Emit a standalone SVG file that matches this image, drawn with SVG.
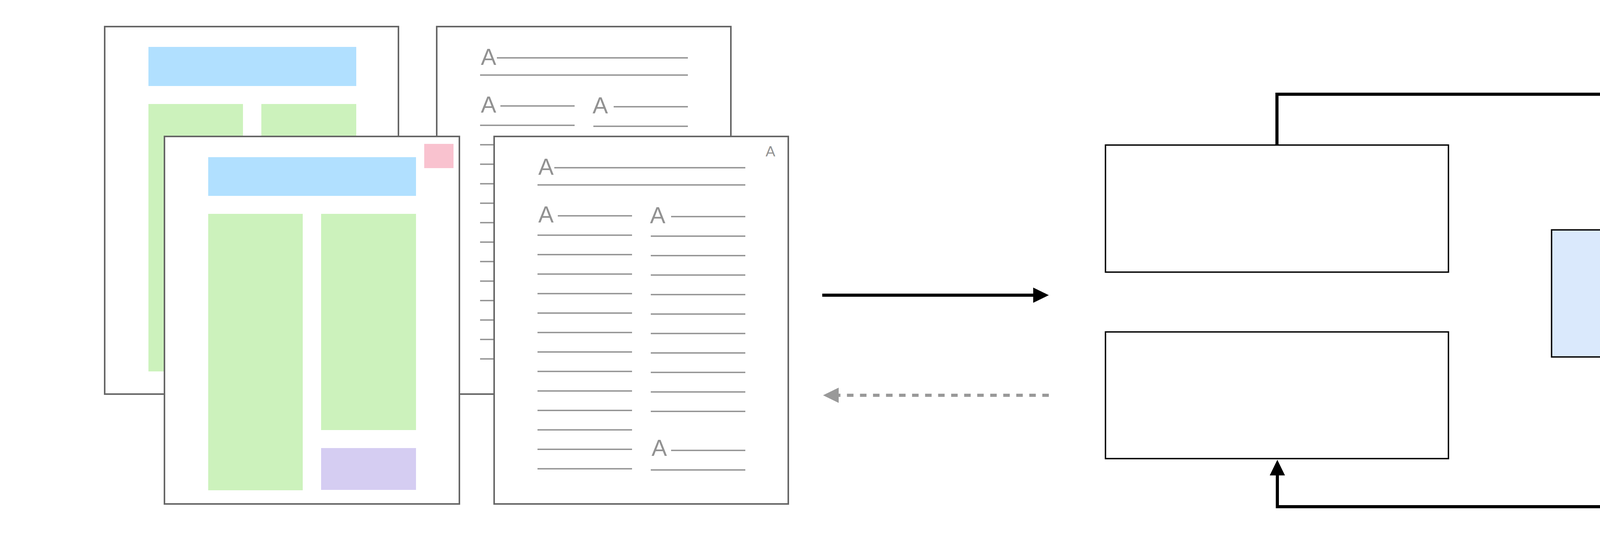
<svg xmlns="http://www.w3.org/2000/svg" xmlns:xlink="http://www.w3.org/1999/xlink" width="7610" height="1417" viewBox="0 0 7610 1417">
<style>
.page{fill:#ffffff;stroke:#666666;stroke-width:4}
.tl{stroke:#929292;stroke-width:3.5;fill:none}
.ta{font-family:"Liberation Sans",Arial,sans-serif;font-size:59px;fill:#929292}
.ts{font-family:"Liberation Sans",Arial,sans-serif;font-size:37px;fill:#929292}
.box{stroke:#000000;stroke-width:3.5}
.hdr{fill:#b1e0ff}
.grn{fill:#ccf2bc}
.conn{fill:none;stroke:#000000;stroke-width:8}
.dash{fill:none;stroke:#999999;stroke-width:8;stroke-dasharray:16.67 16.67}
</style>
<defs>
<marker id="ah" markerUnits="userSpaceOnUse" markerWidth="40" markerHeight="40" refX="0" refY="19.5" orient="auto" overflow="visible">
<path d="M0,0 L40,19.5 L0,39 Z" fill="#000000"/>
</marker>
<marker id="ahg" markerUnits="userSpaceOnUse" markerWidth="40" markerHeight="40" refX="0" refY="19.5" orient="auto" overflow="visible">
<path d="M0,0 L40,19.5 L0,39 Z" fill="#999999"/>
</marker>
<g id="textpage">
<text class="ta" x="113" y="98">A</text>
<path class="tl" d="M154,80H643M111,124H643"/>
<text class="ta" x="113" y="220">A</text>
<path class="tl" d="M163,203H353"/>
<text class="ta" x="399" y="222">A</text>
<path class="tl" d="M453,205H643"/>
<path class="tl" d="M111,252.5H353M111,302.3H353M111,352.1H353M111,401.9H353M111,451.7H353M111,501.5H353M111,551.3H353M111,601.1H353M111,650.9H353M111,700.7H353M111,750.5H353M111,800.3H353M111,850.1H353"/>
<path class="tl" d="M401,255H643M401,304.8H643M401,354.6H643M401,404.4H643M401,454.2H643M401,504H643M401,553.8H643M401,603.6H643M401,653.4H643M401,703.2H643"/>
<text class="ta" x="403" y="817">A</text>
<path class="tl" d="M453,803H643M401,853H643"/>
</g>
</defs>

<g id="input-documents">
<g id="layout-page-back">
<rect class="page" x="268" y="68" width="752" height="940"/>
<rect class="hdr" x="380" y="120" width="532" height="100"/>
<rect class="grn" x="380" y="266" width="242" height="684"/>
<rect class="grn" x="669" y="266" width="243" height="684"/>
</g>
<g id="text-page-back">
<rect class="page" x="1118" y="68" width="753" height="940"/>
<use xlink:href="#textpage" transform="translate(1118,68)"/>
</g>
<g id="layout-page-front">
<rect class="page" x="421" y="349" width="755" height="940"/>
<rect fill="#f9c2cf" x="1086" y="368" width="75" height="62"/>
<rect class="hdr" x="533" y="402" width="532" height="99"/>
<rect class="grn" x="533" y="547" width="242" height="707"/>
<rect class="grn" x="822" y="547" width="243" height="553"/>
<rect fill="#d5cdf2" x="822" y="1146" width="243" height="107"/>
</g>
<g id="text-page-front">
<rect class="page" x="1265" y="349" width="753" height="940"/>
<use xlink:href="#textpage" transform="translate(1265,349)"/>
<text class="ts" x="1960" y="400">A</text>
</g>
</g>

<g id="box-top">
<rect class="box" fill="#ffffff" x="2830" y="371" width="878" height="325"/>
</g>
<g id="box-bottom">
<rect class="box" fill="#ffffff" x="2830" y="849" width="878" height="324"/>
</g>
<g id="box-blue">
<rect class="box" fill="#dae9fc" x="3972" y="588" width="880" height="325"/>
</g>
<g id="box-pink">
<rect class="box" fill="#fff6f4" x="5273" y="602" width="880" height="325"/>
</g>

<g id="output-document">
<rect class="page" x="6534" y="285" width="755" height="941"/>
<text class="ts" x="7202" y="360" style="font-size:38px">A</text>
<text class="ta" x="6617" y="406">A</text>
<path class="tl" d="M6659,388H7150M6615,432H7150"/>
<text class="ta" x="6617" y="528">A</text>
<path class="tl" d="M6667,511H6859"/>
<text class="ta" x="6905" y="529">A</text>
<path class="tl" d="M6958,513H7150"/>
<path class="tl" d="M6615,561H6859M6615,610.8H6859M6615,660.6H6859M6615,710.4H6859M6615,760.2H6859M6615,810H6859M6615,859.8H6859M6615,909.6H6859M6615,959.4H6859M6615,1009.2H6859M6615,1059H6859M6615,1108.8H6859M6615,1158.6H6859"/>
<path class="tl" d="M6907,563H7150M6907,612.8H7150M6907,662.6H7150M6907,712.4H7150M6907,762.2H7150M6907,812H7150M6907,861.8H7150M6907,911.6H7150M6907,961.4H7150M6907,1011.2H7150"/>
<text class="ta" x="6905" y="1126">A</text>
<path class="tl" d="M6958,1111H7150M6907,1160H7150"/>
</g>

<g id="connectors">
<path class="conn" d="M2105,755H2645" marker-end="url(#ah)"/>
<path class="dash" d="M2685,1011H2147" marker-end="url(#ahg)"/>
<path class="conn" d="M3269,371V241H4412V547" marker-end="url(#ah)"/>
<path class="conn" d="M4412,913V1296H3270V1216" marker-end="url(#ah)"/>
<path class="conn" d="M4942,764H5144" marker-end="url(#ah)"/>
<path class="conn" d="M6222,764H6424" marker-end="url(#ah)"/>
</g>
</svg>
